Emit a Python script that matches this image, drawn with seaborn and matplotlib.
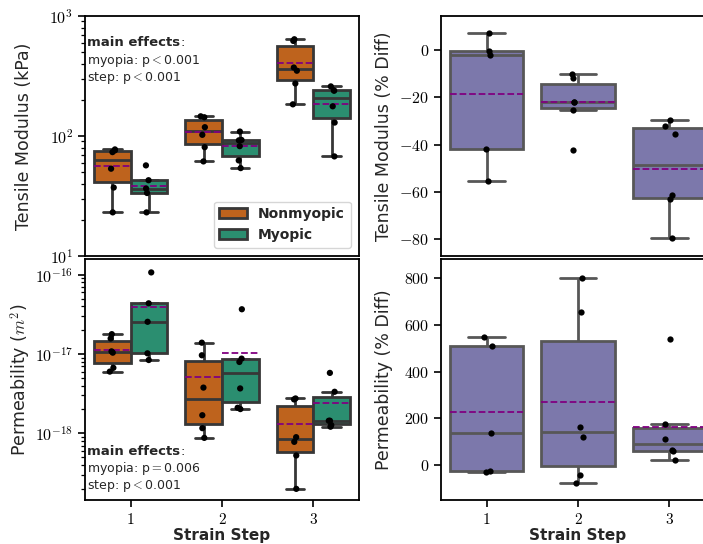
import numpy as np
import pandas as pd
import matplotlib
matplotlib.use("Agg")
import matplotlib.pyplot as plt
import seaborn as sns
from matplotlib.ticker import (FuncFormatter, LogLocator, NullFormatter,
                               MultipleLocator, FixedLocator)

# ---------------- data ----------------
steps = ["1", "2", "3"]
groups = ["Nonmyopic", "Myopic"]

# Tensile modulus (kPa), one list per strain step
tm_nonmyopic = [[23.1, 37.2, 53.4, 73.4, 75.9, 77.3],
                [61.4, 80.7, 102.3, 118.4, 143.3, 145.9],
                [183.6, 274.0, 350.0, 372.0, 620.0, 640.0]]
tm_myopic = [[23.1, 33.5, 36.5, 42.8, 56.9],
             [54.0, 62.6, 82.3, 92.0, 92.7, 108.9],
             [67.6, 129.4, 176.8, 238.6, 240.0, 259.0]]

# Permeability (m^2)
perm_nonmyopic = [[6.0e-18, 6.7e-18, 10.4e-18, 10.8e-18, 15.7e-18, 17.8e-18],
                  [0.875e-18, 1.16e-18, 1.69e-18, 3.77e-18, 9.64e-18, 13.9e-18],
                  [0.199e-18, 0.525e-18, 0.78e-18, 0.893e-18, 2.675e-18, 2.75e-18]]
perm_myopic = [[8.4e-18, 10.2e-18, 25.5e-18, 43.6e-18, 107e-18],
               [2.02e-18, 2.10e-18, 3.68e-18, 7.94e-18, 8.75e-18, 36.7e-18],
               [1.21e-18, 1.27e-18, 1.44e-18, 1.44e-18, 3.34e-18, 5.78e-18]]

# Percent differences (myopic vs nonmyopic)
tm_diff = [[7.0, -0.5, -2.2, -41.7, -55.4],
           [-10.0, -11.9, -21.8, -22.1, -25.3, -42.1],
           [-29.7, -32.2, -35.6, -61.4, -63.1, -79.5]]
perm_diff = [[548.0, 508.0, 139.0, -24.0, -31.0],
             [800.7, 654.6, 164.8, 120.5, -44.0, -78.0],
             [538.0, 174.6, 113.7, 63.9, 58.3, 22.6]]

tm_effects = ["myopia: p$<$0.001", "step: p$<$0.001"]
perm_effects = ["myopia: p$=$0.006", "step: p$<$0.001"]


def long_grouped(nonmyopic, myopic):
    rows = []
    for g, per_step in zip(groups, [nonmyopic, myopic]):
        for s, vals in zip(steps, per_step):
            for v in vals:
                rows.append((s, g, v))
    return pd.DataFrame(rows, columns=["step", "group", "value"])


def long_single(per_step):
    rows = []
    for s, vals in zip(steps, per_step):
        for v in vals:
            rows.append((s, v))
    return pd.DataFrame(rows, columns=["step", "value"])


df_tm = long_grouped(tm_nonmyopic, tm_myopic)
df_perm = long_grouped(perm_nonmyopic, perm_myopic)
df_tmd = long_single(tm_diff)
df_permd = long_single(perm_diff)

# ---------------- style ----------------
sns.set_theme(style="ticks")
plt.rcParams.update({
    "font.family": ["DejaVu Sans"],
    "mathtext.fontset": "cm",
    "axes.edgecolor": "black",
    "axes.linewidth": 1.3,
    "xtick.major.size": 5, "ytick.major.size": 5, "ytick.minor.size": 3,
    "xtick.major.width": 1.2, "ytick.major.width": 1.2, "ytick.minor.width": 0.9,
    "xtick.labelsize": 11, "ytick.labelsize": 11.5,
    "xtick.color": "black", "ytick.color": "black",
})
pal = sns.color_palette("Dark2")
hue_pal = {"Nonmyopic": pal[1], "Myopic": pal[0]}
black_pal = {"Nonmyopic": "black", "Myopic": "black"}

box_kws = dict(linewidth=2, showfliers=False, showmeans=True, meanline=True,
               meanprops=dict(color="purple", linestyle="--", linewidth=1.3))
np.random.seed(3)

fig = plt.figure(figsize=(7.03, 5.44), dpi=100)
W = 274 / 703
ax_tl = fig.add_axes([85 / 703, 1 - 256 / 544, W, 240 / 544])
ax_bl = fig.add_axes([85 / 703, 1 - 500 / 544, W, 241 / 544])
ax_tr = fig.add_axes([441 / 703, 1 - 256 / 544, W, 240 / 544])
ax_br = fig.add_axes([441 / 703, 1 - 500 / 544, W, 241 / 544])

ylims_log = {ax_tl: (10, 1000), ax_bl: (1.44e-19, 1.58e-16)}

# left panels (grouped, log scale)
for ax, df, leg in ((ax_tl, df_tm, True), (ax_bl, df_perm, False)):
    sns.boxplot(data=df, x="step", y="value", hue="group", order=steps,
                hue_order=groups, palette=hue_pal, ax=ax, legend=leg, **box_kws)
    sns.stripplot(data=df, x="step", y="value", hue="group", order=steps,
                  hue_order=groups, palette=black_pal, dodge=True, jitter=0.07,
                  size=4.5, legend=False, ax=ax, zorder=5)
    ax.set_yscale("log")
    lo, hi = ylims_log[ax]
    ax.set_ylim(lo, hi)
    decades = 10.0 ** np.arange(np.ceil(np.log10(lo) - 1e-9), np.floor(np.log10(hi) + 1e-9) + 1)
    ax.yaxis.set_major_locator(FixedLocator(decades))
    ax.yaxis.set_minor_locator(LogLocator(base=10, subs=np.arange(2, 10), numticks=10))
    ax.yaxis.set_major_formatter(FuncFormatter(lambda v, p: r"$10^{%d}$" % int(round(np.log10(v)))))
    ax.yaxis.set_minor_formatter(NullFormatter())

# right panels (single colour, linear)
for ax, df in ((ax_tr, df_tmd), (ax_br, df_permd)):
    sns.boxplot(data=df, x="step", y="value", order=steps, color=pal[2], ax=ax, **box_kws)
    sns.stripplot(data=df, x="step", y="value", order=steps, color="black",
                  jitter=0.07, size=4.5, ax=ax, zorder=5)
    ax.yaxis.set_major_formatter(FuncFormatter(lambda v, p: r"$%d$" % int(round(v))))

ax_tr.yaxis.set_major_locator(MultipleLocator(20))
ax_tr.set_ylim(-87, 14.3)
ax_br.yaxis.set_major_locator(MultipleLocator(200))
ax_br.set_ylim(-149, 881)

for ax in (ax_tl, ax_bl, ax_tr, ax_br):
    ax.set_xlim(-0.5, 2.5)
    for sp in ax.spines.values():
        sp.set_visible(True)
        sp.set_color("black")
    ax.set_xticks(range(len(steps)), [f"${s}$" for s in steps])

for ax in (ax_tl, ax_tr):
    ax.set_xlabel("")
    ax.xaxis.label.set_visible(False)
    ax.tick_params(axis="x", length=0, labelbottom=False)
for ax in (ax_bl, ax_br):
    ax.set_xlabel("Strain Step", fontsize=11, fontweight="bold", labelpad=1)

ax_tl.set_ylabel("Tensile Modulus (kPa)", fontsize=12.5)
ax_bl.set_ylabel("Permeability ($m^2$)", fontsize=12.5)
ax_tr.set_ylabel("Tensile Modulus (% Diff)", fontsize=12.5)
ax_br.set_ylabel("Permeability (% Diff)", fontsize=12.5)
for ax in (ax_tl, ax_bl):
    ax.yaxis.set_label_coords(-0.19, 0.5)
for ax in (ax_tr, ax_br):
    ax.yaxis.set_label_coords(-0.175, 0.5)

sns.move_legend(ax_tl, "lower right", title=None, frameon=True,
                prop={"weight": "bold", "size": 10}, borderaxespad=0.6)


def effects(ax, y0, dy, lines):
    t = ax.text(0.008, y0, "main effects", transform=ax.transAxes, fontsize=9.5,
                fontweight="bold", va="center", ha="left")
    ax.annotate(":", xy=(1, 0), xycoords=t, va="bottom", ha="left", fontsize=9.5)
    for i, s in enumerate(lines):
        ax.text(0.008, y0 - (i + 1) * dy, s, transform=ax.transAxes, fontsize=9,
                va="center", ha="left")


effects(ax_tl, 0.889, 0.074, tm_effects)
effects(ax_bl, 0.200, 0.071, perm_effects)

fig.savefig("out.png", dpi=100)
